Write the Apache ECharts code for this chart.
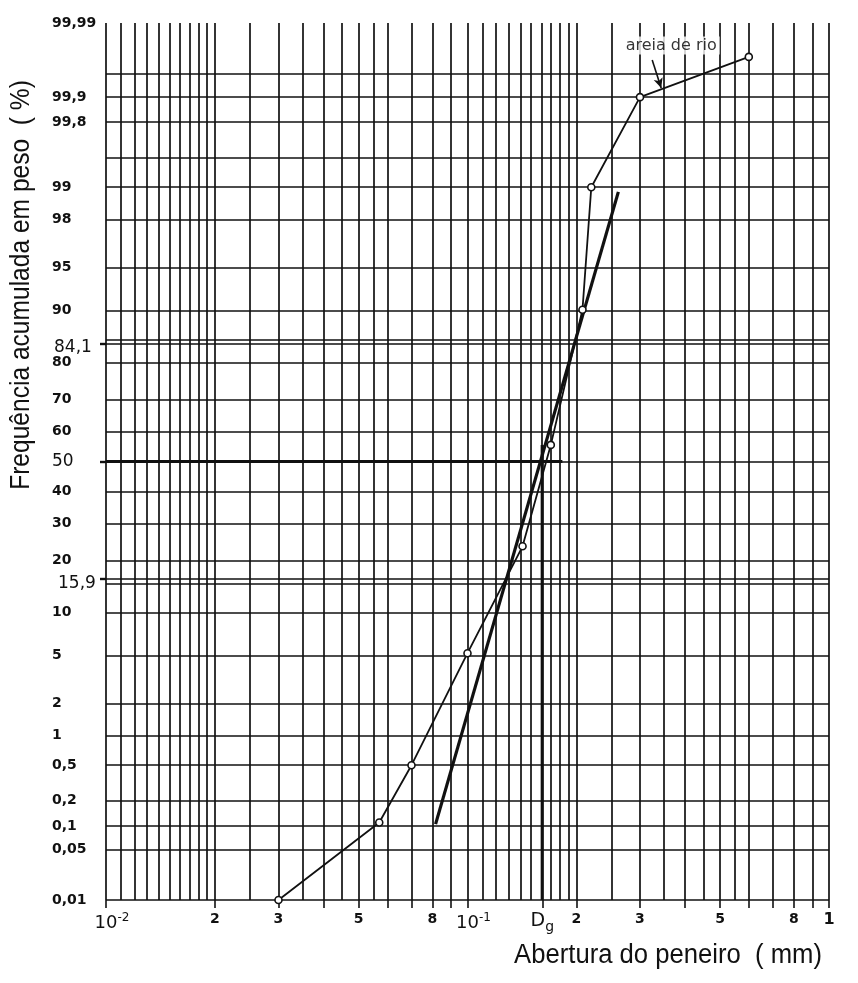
<!DOCTYPE html>
<html>
<head>
<meta charset="utf-8">
<script src="https://cdn.jsdelivr.net/npm/echarts@6/dist/echarts.min.js"></script>
<style>html,body{margin:0;padding:0;background:#fff}#chart{width:858px;height:983px}</style>
</head>
<body>
<div id="chart"></div>
<script>
// ---------------- data ----------------
const sieveOpening = [0.03, 0.057, 0.07, 0.1, 0.142, 0.17, 0.208, 0.22, 0.3, 0.6];      // mm
const cumulativePct = [0.01, 0.11, 0.5, 5.2, 23.6, 55.6, 90.1, 99, 99.9, 99.97];        // %
const fitOpening = [0.0816, 0.2614];
const fitPct = [0.105, 98.89];
const Dg = 0.161;
const dgLinePct = [55.6, 0.01];
const medianLineOpening = [0.01, 0.183];
const medianPct = 50;
const seriesName = 'areia de rio';
const annotationAt = [0.366, 99.979];
const arrowFrom = [0.3243, 99.967];
const arrowTo = [0.3434, 99.923];

const xRange = [0.01, 1];
const yRange = [0.01, 99.99];
const xGridValues = [0.01,0.011,0.012,0.013,0.014,0.015,0.016,0.017,0.018,0.019,0.02,0.025,0.03,0.035,0.04,0.045,0.05,0.055,0.06,0.07,0.08,0.09,
                     0.1,0.11,0.12,0.13,0.14,0.15,0.16,0.17,0.18,0.19,0.2,0.25,0.3,0.35,0.4,0.45,0.5,0.55,0.6,0.7,0.8,0.9,1];
const xTickValues = [0.01,0.02,0.03,0.04,0.05,0.06,0.07,0.08,0.09,0.1,Dg,0.2,0.3,0.4,0.5,0.6,0.7,0.8,0.9,1];
const xLabelValues = [0.01,0.02,0.03,0.05,0.08,0.1,Dg,0.2,0.3,0.5,0.8,1];
const xLabelTexts = ['10^-2','2','3','5','8','10^-1','D_g','2','3','5','8','1'];
const yGridValues = [0.01,0.05,0.1,0.2,0.5,1,2,5,10,15,15.9,20,30,40,50,60,70,80,84.1,85,90,95,98,99,99.5,99.8,99.9,99.95,99.99];
const yLabelValues = [0.01,0.05,0.1,0.2,0.5,1,2,5,10,15.9,20,30,40,50,60,70,80,84.1,90,95,98,99,99.8,99.9,99.99];
const yLabelTexts = ['0,01','0,05','0,1','0,2','0,5','1','2','5','10','15,9','20','30','40','50','60','70','80','84,1','90','95','98','99','99,8','99,9','99,99'];
const yOutTickValues = [15.9, 50, 84.1];
const xTitle = 'Abertura do peneiro  ( mm)';
const yTitle = 'Frequência acumulada em peso  ( %)';

// ---------------- probability-scale transform (normal quantile) ----------------
function probit(pct) {
  const p = pct / 100;
  const a = [-3.969683028665376e+01, 2.209460984245205e+02, -2.759285104469687e+02, 1.383577518672690e+02, -3.066479806614716e+01, 2.506628277459239e+00];
  const b = [-5.447609879822406e+01, 1.615858368580409e+02, -1.556989798598866e+02, 6.680131188771972e+01, -1.328068155288572e+01];
  const c = [-7.784894002430293e-03, -3.223964580411365e-01, -2.400758277161838e+00, -2.549732539343734e+00, 4.374664141464968e+00, 2.938163982698783e+00];
  const d = [7.784695709041462e-03, 3.224671290700398e-01, 2.445134137142996e+00, 3.754408661907416e+00];
  const pl = 0.02425;
  if (p < pl) {
    const q = Math.sqrt(-2 * Math.log(p));
    return (((((c[0]*q+c[1])*q+c[2])*q+c[3])*q+c[4])*q+c[5]) / ((((d[0]*q+d[1])*q+d[2])*q+d[3])*q+1);
  } else if (p <= 1 - pl) {
    const q = p - 0.5, r = q*q;
    return (((((a[0]*r+a[1])*r+a[2])*r+a[3])*r+a[4])*r+a[5])*q / (((((b[0]*r+b[1])*r+b[2])*r+b[3])*r+b[4])*r+1);
  } else {
    const q = Math.sqrt(-2 * Math.log(1 - p));
    return -(((((c[0]*q+c[1])*q+c[2])*q+c[3])*q+c[4])*q+c[5]) / ((((d[0]*q+d[1])*q+d[2])*q+d[3])*q+1);
  }
}
const yLabelZ = yLabelValues.map(probit);
const xLabelLog = xLabelValues.map(v => Math.log10(v));

function xLabelFormatter(value) {
  let idx = -1;
  xLabelLog.forEach((v, i) => { if (Math.abs(v - value) < 1e-6) idx = i; });
  if (idx < 0) return '';
  const t = xLabelTexts[idx];
  if (t.indexOf('^') >= 0) {
    const parts = t.split('^');
    return '{sp| }{ten|' + parts[0] + '}{sup|' + parts[1] + '}';
  }
  if (t.indexOf('_') >= 0) {
    const parts = t.split('_');
    return '{big|' + parts[0] + '}{sub|' + parts[1] + '}';
  }
  if (idx === xLabelTexts.length - 1) return '{one|' + t + '}';
  return '{d|' + t + '}';
}
function yLabelFormatter(value) {
  let idx = -1;
  yLabelZ.forEach((v, i) => { if (Math.abs(v - value) < 1e-6) idx = i; });
  if (idx < 0) return '';
  const t = yLabelTexts[idx];
  if (t === '50') return '{r|' + t + '}';
  if (t === '84,1') return '{r2|' + t + '}';
  if (t === '15,9') return '{r6|' + t + '}';
  return '{b|' + t + '}';
}

const ink = '#111';
const gridLines = []
  .concat(yGridValues.map(p => ({ yAxis: probit(p) })))
  .concat(xGridValues.map(v => ({ xAxis: v })));

const chart = echarts.init(document.getElementById('chart'), null, { renderer: 'canvas' });
chart.setOption({
  animation: false,
  backgroundColor: '#fff',
  grid: { left: 106, right: 29, top: 23, bottom: 83, containLabel: false },
  xAxis: [
    { type: 'log', logBase: 10, min: xRange[0], max: xRange[1], position: 'bottom',
      axisLine: { show: false, onZero: false }, axisTick: { show: false }, axisLabel: { show: false }, splitLine: { show: false } },
    { type: 'value', min: Math.log10(xRange[0]), max: Math.log10(xRange[1]), position: 'bottom',
      axisLine: { show: false, onZero: false }, splitLine: { show: false },
      axisTick: { show: true, inside: false, length: 8, customValues: xTickValues.map(v => Math.log10(v)),
                  lineStyle: { color: ink, width: 1.6 } },
      axisLabel: { show: true, margin: 12, customValues: xLabelLog, formatter: xLabelFormatter,
        rich: {
          d: { fontFamily: 'DejaVu Sans', fontWeight: 'bold', fontSize: 14, color: ink },
          one: { fontFamily: 'DejaVu Sans', fontWeight: 'bold', fontSize: 16, color: ink },
          sp: { width: 12, fontSize: 11 },
          ten: { fontFamily: 'DejaVu Sans', fontSize: 18, color: ink, lineHeight: 20, verticalAlign: 'bottom' },
          sup: { fontFamily: 'DejaVu Sans', fontSize: 12, color: ink, lineHeight: 12, verticalAlign: 'top' },
          big: { fontFamily: 'DejaVu Sans', fontSize: 19, color: ink, lineHeight: 22, verticalAlign: 'top' },
          sub: { fontFamily: 'DejaVu Sans', fontSize: 14, color: ink, lineHeight: 12, verticalAlign: 'bottom' }
        } } }
  ],
  yAxis: {
    type: 'value', min: probit(yRange[0]), max: probit(yRange[1]), position: 'left',
    axisLine: { show: false, onZero: false }, splitLine: { show: false },
    axisTick: { show: true, inside: false, length: 6, customValues: yOutTickValues.map(probit),
                lineStyle: { color: ink, width: 2.4 } },
    axisLabel: { show: true, align: 'left', margin: 54, customValues: yLabelZ, formatter: yLabelFormatter,
      rich: {
        b: { fontFamily: 'DejaVu Sans', fontWeight: 'bold', fontSize: 14, color: ink },
        r: { fontFamily: 'DejaVu Sans', fontSize: 17, color: ink },
        r2: { fontFamily: 'DejaVu Sans', fontSize: 17, color: ink, padding: [8, 0, 0, 2] },
        r6: { fontFamily: 'DejaVu Sans', fontSize: 17, color: ink, padding: [8, 0, 0, 6] }
      } }
  },
  graphic: [
    { type: 'text', x: 822, y: 956, scaleX: 0.95,
      style: { text: xTitle, font: '27px "Liberation Sans", Arial, sans-serif', fill: ink, textAlign: 'right', textVerticalAlign: 'middle' } },
    { type: 'text', x: 22, y: 285, rotation: Math.PI / 2, scaleX: 0.91,
      style: { text: yTitle, font: '27px "Liberation Sans", Arial, sans-serif', fill: ink, textAlign: 'center', textVerticalAlign: 'middle' } }
  ],
  series: [
    { type: 'line', name: 'grid', data: [], silent: true, z: 1, clip: false, xAxisIndex: 0,
      markLine: { silent: true, symbol: ['none', 'none'], animation: false, precision: 12, label: { show: false },
        emphasis: { disabled: true },
        lineStyle: { color: ink, width: 1.7, type: 'solid' },
        data: gridLines } },
    { type: 'line', name: 'median', xAxisIndex: 0, z: 3, symbol: 'none', silent: true,
      lineStyle: { color: ink, width: 3.2 },
      data: medianLineOpening.map(v => [v, probit(medianPct)]) },
    { type: 'line', name: 'Dg', xAxisIndex: 0, z: 3, symbol: 'none', silent: true,
      lineStyle: { color: ink, width: 3.2 },
      data: dgLinePct.map(p => [Dg, probit(p)]) },
    { type: 'line', name: 'fit', xAxisIndex: 0, z: 4, symbol: 'none', silent: true,
      lineStyle: { color: ink, width: 3.2 },
      data: fitOpening.map((v, i) => [v, probit(fitPct[i])]) },
    { type: 'line', name: seriesName, xAxisIndex: 0, z: 5, symbol: 'circle', symbolSize: 7, silent: true,
      lineStyle: { color: ink, width: 1.8 },
      itemStyle: { color: '#fff', borderColor: ink, borderWidth: 1.6 },
      data: sieveOpening.map((v, i) => [v, probit(cumulativePct[i])]),
      markLine: { silent: true, animation: false, precision: 12, symbol: ['none', 'arrow'], symbolSize: [7, 10],
        label: { show: false }, emphasis: { disabled: true },
        lineStyle: { color: ink, width: 1.6, type: 'solid', curveness: 0.35 },
        data: [[ { coord: [arrowFrom[0], probit(arrowFrom[1])] }, { coord: [arrowTo[0], probit(arrowTo[1])] } ]] } },
    { type: 'scatter', name: 'label', xAxisIndex: 0, z: 6, symbolSize: 0, silent: true,
      label: { show: true, position: 'inside', formatter: seriesName,
               fontFamily: 'DejaVu Sans', fontSize: 16, color: '#000', textBorderWidth: 0, textBorderColor: 'transparent',
               backgroundColor: '#fff', padding: [1, 3] },
      data: [[annotationAt[0], probit(annotationAt[1])]] }
  ]
});
</script>
</body>
</html>
